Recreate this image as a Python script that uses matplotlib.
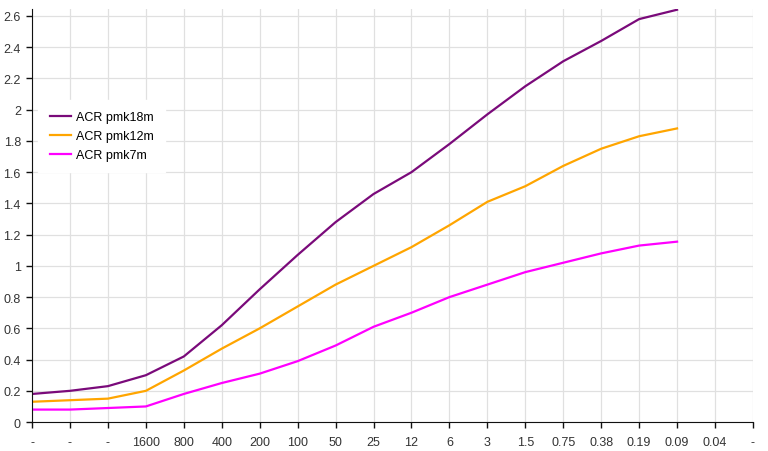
import numpy as np
import matplotlib
matplotlib.use('Agg')
import matplotlib.pyplot as plt

plt.rcParams['font.family'] = ['Liberation Sans', 'DejaVu Sans']

# 横轴类别标签
labels = ['-', '-', '-', '1600', '800', '400', '200', '100', '50', '25',
          '12', '6', '3', '1.5', '0.75', '0.38', '0.19', '0.09', '0.04', '-']

# 三条曲线的数值
acr_18m = [0.18, 0.20, 0.23, 0.30, 0.42, 0.62, 0.85, 1.07, 1.28, 1.46,
           1.60, 1.78, 1.97, 2.15, 2.31, 2.44, 2.58, 2.64]
acr_12m = [0.13, 0.14, 0.15, 0.20, 0.33, 0.47, 0.60, 0.74, 0.88, 1.00,
           1.12, 1.26, 1.41, 1.51, 1.64, 1.75, 1.83, 1.88]
acr_7m = [0.08, 0.08, 0.09, 0.10, 0.18, 0.25, 0.31, 0.39, 0.49, 0.61,
          0.70, 0.80, 0.88, 0.96, 1.02, 1.08, 1.13, 1.155]

fig = plt.figure(figsize=(7.68, 4.52), dpi=100)
ax = fig.add_axes([0.0417, 0.064, 0.9387, 0.914])

x = np.arange(len(acr_18m))
ax.plot(x, acr_18m, color='#7a0a7a', lw=1.6, label='ACR pmk18m', solid_joinstyle='round')
ax.plot(x, acr_12m, color='#ffa500', lw=1.6, label='ACR pmk12m', solid_joinstyle='round')
ax.plot(x, acr_7m, color='#ff00ff', lw=1.6, label='ACR pmk7m', solid_joinstyle='round')

ax.set_xlim(0, len(labels) - 1)
ax.set_ylim(0, 2.645)
ax.set_xticks(range(len(labels)))
ax.set_xticklabels(labels)
ax.set_yticks(np.arange(0, 2.61, 0.2))
ax.set_yticklabels(['0'] + [f'{v:g}' for v in np.arange(0.2, 2.61, 0.2).round(1)])
ax.tick_params(labelsize=9, labelcolor='#333333', color='#111111', length=4, width=1)
ax.tick_params(axis='x', pad=6)
ax.tick_params(axis='y', pad=4)

ax.grid(True, color='#e0e0e0', lw=0.9)
ax.set_axisbelow(True)
for s in ['top', 'right']:
    ax.spines[s].set_visible(False)
for s in ['left', 'bottom']:
    ax.spines[s].set_color('#111111')

leg = ax.legend(loc='upper left', bbox_to_anchor=(0.0, 0.795), fontsize=9,
                frameon=True, fancybox=False, handlelength=1.75,
                handletextpad=0.35, labelspacing=0.55, borderpad=0.9)
leg.get_frame().set_edgecolor('white')
leg.get_frame().set_facecolor('white')
leg.get_frame().set_alpha(1)

fig.savefig('out.png', dpi=100)
